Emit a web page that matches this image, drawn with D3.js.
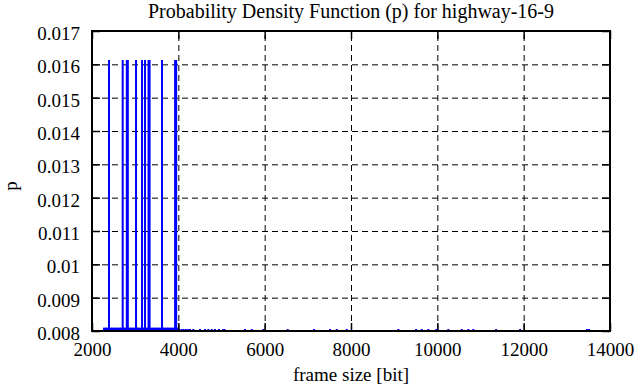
<!DOCTYPE html>
<html>
<head>
<meta charset="utf-8">
<script src="https://cdn.jsdelivr.net/npm/d3@7"></script>
<style>
  body { margin: 0; background: #fff; }
  svg text { font-family: "Liberation Serif", "Times New Roman", Times, serif; font-size: 19px; fill: #000; }
</style>
</head>
<body>
<svg id="chart" width="636" height="387"></svg>
<script>
// frame sizes (bit) with the big probability spikes
const spikeSizes = [2394, 2711, 2806, 2830, 3020, 3159, 3228, 3310, 3334, 3622, 3925, 3950];
const spikeP = [0.01613, 0.01613, 0.01613, 0.01613, 0.01613, 0.01613, 0.01613, 0.01613, 0.01613, 0.01613, 0.01613, 0.01613];

// the low stuff hugging the bottom axis
const lowSizes = [2290, 2330, 2380, 2430, 2480, 2530, 2580, 2630, 2680, 2730, 2780, 2830, 2880, 2930, 2980,
  3030, 3080, 3130, 3180, 3230, 3280, 3330, 3380, 3430, 3480, 3530, 3580, 3630, 3680, 3730, 3780, 3830,
  3880, 3930, 3975];
const lowP = 0.0081;
const tailSizes = [4020, 4070, 4120, 4170, 4220, 4270, 4347, 4502, 4618, 4695, 4773, 4850, 4943, 5040, 5070,
  5545, 5700, 5969, 6534, 7144, 7514, 7670, 7901, 9097, 9507, 9639, 9792, 9975, 10010, 10255, 10566,
  10719, 10835, 11361, 11917, 13462, 13515];
const tailP = 0.00806;

const xTicks = [2000, 4000, 6000, 8000, 10000, 12000, 14000];
const yTicks = [0.008, 0.009, 0.010, 0.011, 0.012, 0.013, 0.014, 0.015, 0.016, 0.017];
const yTickLabels = ["0.008", "0.009", "0.01", "0.011", "0.012", "0.013", "0.014", "0.015", "0.016", "0.017"];

const margin = { top: 31, right: 26, bottom: 56, left: 92 };
const width = 636 - margin.left - margin.right;
const height = 387 - margin.top - margin.bottom;

const svg = d3.select('#chart');
const g = svg.append('g').attr('transform', `translate(${margin.left},${margin.top})`);

const x = d3.scaleLinear().domain([2000, 14000]).range([0, width]);
const y = d3.scaleLinear().domain([0.008, 0.017]).range([height, 0]);

svg.append('defs').append('clipPath').attr('id', 'clip')
  .append('rect').attr('width', width).attr('height', height);

// dashed grid
const gridX = g.append('g')
  .attr('transform', `translate(0,${height})`)
  .call(d3.axisBottom(x).tickValues(xTicks.slice(1, -1)).tickSize(-height).tickFormat(''));
const gridY = g.append('g')
  .call(d3.axisLeft(y).tickValues(yTicks.slice(1, -1)).tickSize(-width).tickFormat(''));
[gridX, gridY].forEach(gr => {
  gr.select('.domain').remove();
  gr.selectAll('line').attr('stroke', '#000').attr('stroke-width', 1).attr('stroke-dasharray', '6,4');
});

// impulses
const marks = g.append('g').attr('clip-path', 'url(#clip)');

marks.selectAll('line.low')
  .data(lowSizes)
  .join('line')
  .attr('class', 'low')
  .attr('x1', d => x(d)).attr('x2', d => x(d))
  .attr('y1', y(0.008)).attr('y2', y(lowP))
  .attr('stroke', '#0000ff').attr('stroke-width', 3);

marks.selectAll('line.tail')
  .data(tailSizes)
  .join('line')
  .attr('class', 'tail')
  .attr('x1', d => x(d)).attr('x2', d => x(d))
  .attr('y1', y(0.008)).attr('y2', y(tailP))
  .attr('stroke', '#0000ff').attr('stroke-width', 2);

marks.selectAll('line.spike')
  .data(spikeSizes)
  .join('line')
  .attr('class', 'spike')
  .attr('x1', d => x(d)).attr('x2', d => x(d))
  .attr('y1', y(0.008)).attr('y2', (d, i) => y(spikeP[i]))
  .attr('stroke', '#0000ff').attr('stroke-width', 2);

// axes with inward ticks
const xAxis = g.append('g')
  .attr('transform', `translate(0,${height})`)
  .call(d3.axisBottom(x).tickValues(xTicks).tickSizeInner(-8).tickSizeOuter(0).tickFormat(d3.format('d')));
xAxis.selectAll('text').attr('y', 25).attr('dy', 0);

const yAxis = g.append('g')
  .call(d3.axisLeft(y).tickValues(yTicks).tickSizeInner(-8).tickSizeOuter(0).tickPadding(12)
    .tickFormat((d, i) => yTickLabels[i]));
yAxis.selectAll('text').attr('dy', '0.45em');

g.append('g')
  .attr('transform', `translate(${width},0)`)
  .call(d3.axisRight(y).tickValues(yTicks).tickSizeInner(-8).tickSizeOuter(0).tickFormat(''));
g.append('g')
  .call(d3.axisTop(x).tickValues(xTicks).tickSizeInner(-8).tickSizeOuter(0).tickFormat(''));

g.selectAll('.domain').remove();
g.selectAll('.tick line').filter(function () { return !this.getAttribute('stroke-dasharray'); })
  .attr('stroke', '#000').attr('stroke-width', 1.5);
g.selectAll('g').attr('font-family', null).attr('font-size', null);

// frame
g.append('rect')
  .attr('width', width).attr('height', height)
  .attr('fill', 'none').attr('stroke', '#000').attr('stroke-width', 2);

// titles
svg.append('text')
  .attr('x', margin.left + width / 2).attr('y', 18)
  .attr('text-anchor', 'middle')
  .style('font-size', '20px')
  .text('Probability Density Function (p) for highway-16-9');

svg.append('text')
  .attr('x', margin.left + width / 2).attr('y', 381)
  .attr('text-anchor', 'middle')
  .text('frame size [bit]');

svg.append('text')
  .attr('transform', 'translate(17,186) rotate(-90)')
  .attr('text-anchor', 'middle')
  .text('p');
</script>
</body>
</html>
